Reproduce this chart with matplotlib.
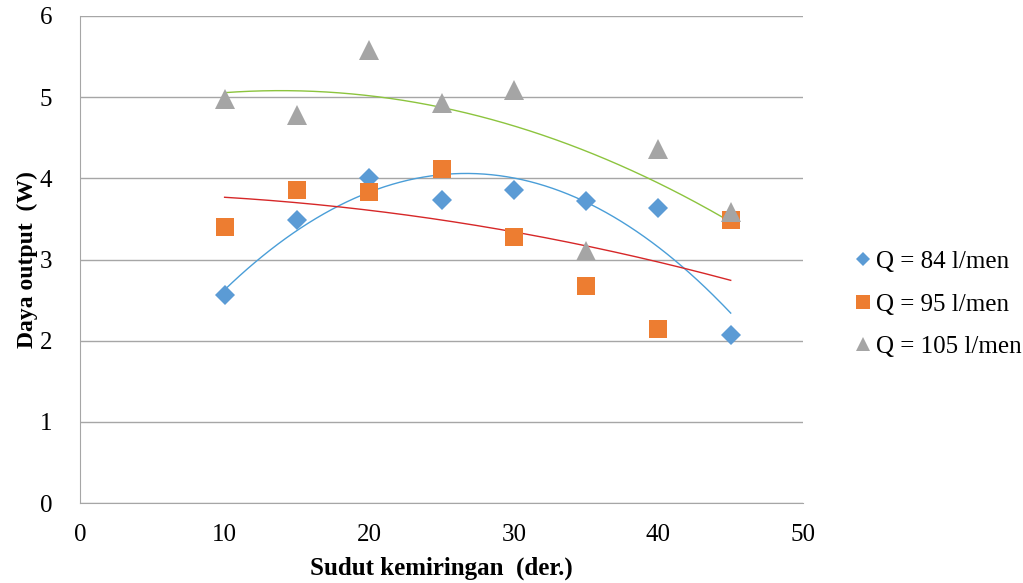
import numpy as np
import matplotlib
matplotlib.use("Agg")
import matplotlib.pyplot as plt

plt.rcParams['font.family'] = ['Liberation Serif', 'DejaVu Serif']

x = [10, 15, 20, 25, 30, 35, 40, 45]
q84 = [2.56, 3.49, 4.00, 3.73, 3.86, 3.72, 3.63, 2.07]
q95 = [3.40, 3.86, 3.83, 4.11, 3.28, 2.67, 2.14, 3.49]
q105 = [4.98, 4.78, 5.58, 4.93, 5.09, 3.10, 4.36, 3.59]
labels = ["Q = 84 l/men", "Q = 95 l/men", "Q = 105 l/men"]

fig = plt.figure(figsize=(10.23, 5.83), dpi=100)
ax = fig.add_axes([80/1023, 80/583, (803-80)/1023, (503-16)/583])

series = [
    (q84, 'D', '#5B9BD5', '#4A9ED8', 10, labels[0]),
    (q95, 's', '#ED7D31', '#D62728', 13, labels[1]),
    (q105, '^', '#A5A5A5', '#8CC43E', 14, labels[2]),
]
xx = np.linspace(10, 45, 200)
for ys, m, c, tc, ms, lab in series:
    coef = np.polyfit(x, ys, 2)
    ax.plot(xx, np.polyval(coef, xx), color=tc, lw=1.0, zorder=2)
for ys, m, c, tc, ms, lab in series:
    ax.plot(x, ys, linestyle='none', marker=m, color=c, markersize=ms,
            markeredgewidth=0, label=lab, zorder=3)

ax.set_xlim(0, 50)
ax.set_ylim(0, 6)
ax.set_xticks(range(0, 51, 10))
ax.set_yticks(range(0, 7))
ax.grid(axis='y', color='#A6A6A6', lw=1.0)
ax.set_axisbelow(True)
for s in ['top', 'right']:
    ax.spines[s].set_visible(False)
for s in ['left', 'bottom']:
    ax.spines[s].set_color('#A6A6A6')
ax.tick_params(axis='y', length=0, labelsize=18, pad=20)
ax.tick_params(axis='x', length=0, labelsize=18, pad=15)
ax.set_xlabel("Sudut kemiringan  (der.)", fontsize=18, fontweight='bold', labelpad=8)
ax.set_ylabel("Daya output  (W)", fontsize=17, fontweight='bold', labelpad=1)

leg = ax.legend(loc='center left', bbox_to_anchor=(1.035, 0.408), frameon=False,
                fontsize=18, handletextpad=0.0, handlelength=1.0,
                labelspacing=0.8, markerscale=0.75)

fig.savefig("out.png", dpi=100)
